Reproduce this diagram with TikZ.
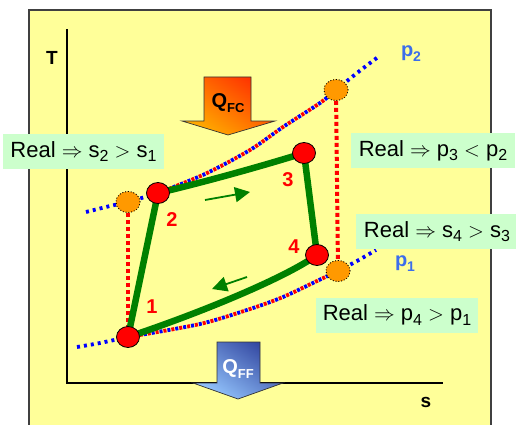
\documentclass[tikz,border=0pt]{standalone}
\usepackage{fontspec}
\setmainfont{Liberation Sans}
\usetikzlibrary{shapes.geometric,arrows.meta}
\definecolor{bgyellow}{RGB}{255,255,153}
\definecolor{boxgreen}{RGB}{204,255,204}
\definecolor{cycgreen}{RGB}{0,128,0}
\definecolor{dotblue}{RGB}{0,0,255}
\definecolor{dotred}{RGB}{255,0,0}
\definecolor{labblue}{RGB}{60,110,235}
\definecolor{idealorange}{RGB}{255,153,0}
\definecolor{qfctop}{RGB}{255,50,0}
\definecolor{qfcbot}{RGB}{255,175,0}
\definecolor{qfftop}{RGB}{50,70,160}
\definecolor{qffbot}{RGB}{150,200,255}
\newcommand\boxsub[1]{\raisebox{-4.5pt}{\fontsize{16}{16}\selectfont #1}}
\newcommand\psub[1]{\raisebox{-5pt}{\fontsize{14}{14}\selectfont #1}}
\newcommand\qsub[1]{\raisebox{-5pt}{\fontsize{13}{13}\selectfont #1}}
\begin{document}
\begin{tikzpicture}[x=1pt,y=-1pt,
  axisline/.style={line width=1.8pt, draw=black},
  bluedot/.style={draw=dotblue, line width=3.8pt, dash pattern=on 3pt off 4pt},
  bluemix/.style={draw=dotblue, line width=3.8pt, dash pattern=on 3pt off 5pt},
  redmix/.style={draw=dotred, line width=3.8pt, dash pattern=on 3pt off 5pt, dash phase=4pt},
  vertdot/.style={draw=dotred, line width=4pt, dash pattern=on 4pt off 3pt},
  cycline/.style={draw=cycgreen, line width=6.5pt},
  flowarrow/.style={draw=cycgreen, line width=1.8pt, -{Triangle[length=15pt,width=15pt]}},
  statept/.style={ellipse, draw=black, line width=0.8pt, fill=red, minimum width=23pt, minimum height=21pt, inner sep=0pt},
  idealpt/.style={ellipse, draw=black, dotted, line width=0.8pt, fill=idealorange, minimum width=24pt, minimum height=21pt, inner sep=0pt},
  ptlabel/.style={text=red, font=\bfseries\fontsize{20}{22}\selectfont, inner sep=0pt, anchor=base},
  plabel/.style={text=labblue, font=\bfseries\fontsize{20}{22}\selectfont, inner sep=0pt, anchor=base},
  axlabel/.style={font=\bfseries\fontsize{19}{21}\selectfont, inner sep=0pt, anchor=base},
  realbox/.style={fill=boxgreen, inner sep=0pt, minimum height=35pt, font=\fontsize{22}{24}\selectfont},
  qtext/.style={font=\bfseries\fontsize{20}{22}\selectfont, inner sep=0pt, anchor=base}
]
\useasboundingbox (0,0) rectangle (516,425);
\begin{scope}
  \clip (0,0) rectangle (516,425);
  \draw[fill=bgyellow, draw=black!75, line width=1.3pt] (29,10) rectangle (491,440);
\end{scope}

% axes
\coordinate (ytop) at (67,29);
\coordinate (orig) at (67,383);
\coordinate (xend) at (443,383);
\draw[axisline] (ytop) -- (orig) -- (xend);
\node[axlabel] (tlab) at (52,65) {T};
\node[axlabel] (slab) at (426,407) {s};

% isobar p2
\draw[bluedot] plot[smooth] coordinates {(86,212) (110,206) (128,202) (158,193)};
\draw[bluemix] plot[smooth] coordinates {(158,193) (205,174) (250,150) (283,127) (320,103) (336,90)};
\draw[redmix] plot[smooth] coordinates {(158,193) (205,174) (250,150) (283,127) (320,103) (336,90)};
\draw[bluedot] plot[smooth] coordinates {(336,90) (357,73) (378,57)};
% isobar p1
\draw[bluedot] plot[smooth] coordinates {(77,347) (100,343) (128,337)};
\draw[bluemix] plot[smooth] coordinates {(128,337) (200,324) (250,309) (283,297) (317,281) (338,271)};
\draw[redmix] plot[smooth] coordinates {(128,337) (200,324) (250,309) (283,297) (317,281) (338,271)};
\draw[bluedot] plot[smooth] coordinates {(338,271) (357,261) (376,250)};
\node[plabel] (p2) at (411,57) {p\psub{2}};
\node[plabel] (p1) at (405,266) {p\psub{1}};

% state coordinates
\coordinate (c1) at (128,337);
\coordinate (c2) at (158,193);
\coordinate (c3) at (304,153);
\coordinate (c4) at (317,255);
\coordinate (c2i) at (128,202);
\coordinate (c3i) at (336,90);
\coordinate (c4i) at (338,271);

% ideal points and verticals
\node[idealpt] (o2) at (c2i) {};
\node[idealpt] (o3) at (c3i) {};
\node[idealpt] (o4) at (c4i) {};
\draw[vertdot] (o2) -- (c1);
\draw[vertdot] (o3) -- (o4);
\node[idealpt] at (c2i) {};
\node[idealpt] at (c3i) {};
\node[idealpt] at (c4i) {};

% cycle
\draw[cycline] (c1) -- (c2);
\draw[cycline] (c2) .. controls (205,182) and (262,166) .. (c3);
\draw[cycline] (c3) -- (c4);
\draw[cycline] (c4) .. controls (285,278) and (200,313) .. (c1);

\coordinate (a1s) at (205,200);
\coordinate (a1e) at (250,192);
\coordinate (a2s) at (247,277);
\coordinate (a2e) at (212,289);
\draw[flowarrow] (a1s) -- (a1e);
\draw[flowarrow] (a2s) -- (a2e);

\node[statept] (n1) at (c1) {};
\node[statept] (n2) at (c2) {};
\node[statept] (n3) at (c3) {};
\node[statept] (n4) at (c4) {};
\node[ptlabel] (l1) at (152,313) {1};
\node[ptlabel] (l2) at (172,226) {2};
\node[ptlabel] (l3) at (288,186) {3};
\node[ptlabel] (l4) at (294,253) {4};

% heat arrows
\shade[top color=qfctop, bottom color=qfcbot, shading angle=-35]
  (204,77) -- (251,77) -- (251,121) -- (275,121) -- (228,135) -- (182,121) -- (204,121) -- cycle;
\draw[line width=0.7pt, draw=black!80]
  (204,77) -- (251,77) -- (251,121) -- (275,121) -- (228,135) -- (182,121) -- (204,121) -- cycle;
\node[qtext] (qfc) at (228,108) {Q\qsub{FC}};

\shade[top color=qfftop, bottom color=qffbot, shading angle=-35]
  (217,342) -- (260,342) -- (260,383) -- (283,383) -- (238,399) -- (193,383) -- (217,383) -- cycle;
\draw[line width=0.7pt, draw=black!80]
  (217,342) -- (260,342) -- (260,383) -- (283,383) -- (238,399) -- (193,383) -- (217,383) -- cycle;
\node[qtext, text=white] (qff) at (238,373) {Q\qsub{FF}};

% real-cycle notes
\node[realbox, minimum width=161pt] (b1) at (83.5,151.5) {Real $\Rightarrow$ s\boxsub{2} $>$ s\boxsub{1}};
\node[realbox, minimum width=164pt] (b2) at (433,150.5) {Real $\Rightarrow$ p\boxsub{3} $<$ p\boxsub{2}};
\node[realbox, minimum width=162pt] (b3) at (437,231.5) {Real $\Rightarrow$ s\boxsub{4} $>$ s\boxsub{3}};
\node[realbox, minimum width=162pt] (b4) at (397,315) {Real $\Rightarrow$ p\boxsub{4} $>$ p\boxsub{1}};
\end{tikzpicture}
\end{document}
